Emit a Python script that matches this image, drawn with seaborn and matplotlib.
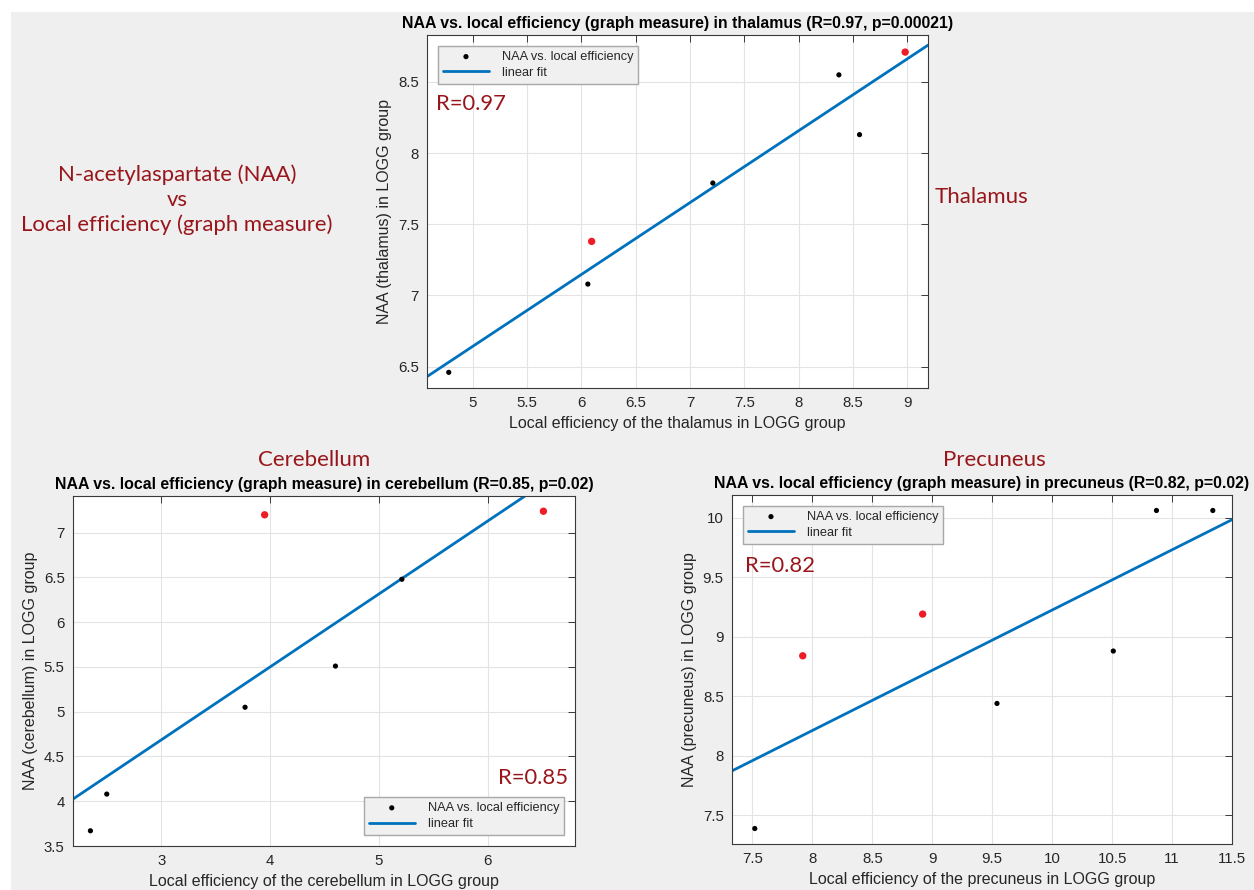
import numpy as np
import pandas as pd
import seaborn as sns
import matplotlib
matplotlib.use('Agg')
import matplotlib.pyplot as plt
from matplotlib.patches import Rectangle

# thalamus
thal_x = [4.78, 6.06, 6.095, 7.21, 8.37, 8.56, 8.98]
thal_y = [6.46, 7.08, 7.38, 7.79, 8.55, 8.13, 8.71]
thal_red = [0, 0, 1, 0, 0, 0, 1]

# cerebellum
cer_x = [2.35, 2.50, 3.77, 3.95, 4.60, 5.21, 6.51]
cer_y = [3.67, 4.08, 5.05, 7.20, 5.51, 6.48, 7.24]
cer_red = [0, 0, 0, 1, 0, 0, 1]

# precuneus
prec_x = [7.52, 7.92, 8.92, 9.54, 10.51, 10.87, 11.34]
prec_y = [7.39, 8.84, 9.19, 8.44, 8.88, 10.06, 10.06]
prec_red = [0, 1, 1, 0, 0, 0, 0]

thal_xticks = [5, 5.5, 6, 6.5, 7, 7.5, 8, 8.5, 9]
thal_yticks = [6.5, 7, 7.5, 8, 8.5]
cer_xticks = [3, 4, 5, 6]
cer_yticks = [3.5, 4, 4.5, 5, 5.5, 6, 6.5, 7]
prec_xticks = [7.5, 8, 8.5, 9, 9.5, 10, 10.5, 11, 11.5]
prec_yticks = [7.5, 8, 8.5, 9, 9.5, 10]

sns.set_theme(style="whitegrid")
plt.rcParams['font.family'] = ['Liberation Sans', 'DejaVu Sans']

BG = '#efefef'
DARKRED = '#98161b'
BLUE = '#0072BD'
TXT = '#262626'

fig = plt.figure(figsize=(12.54, 8.9), dpi=100)
fig.patch.set_facecolor('white')
fig.patches.append(Rectangle((11 / 1254, 0), 1, 1 - 12 / 890, transform=fig.transFigure,
                             facecolor=BG, edgecolor='none', zorder=-10))


def panel(rect, xs, ys, red, xlim, ylim, xticks, yticks, title, xlabel, ylabel, legloc, rtext, rpos):
    ax = fig.add_axes(rect)
    df = pd.DataFrame({'x': xs, 'y': ys, 'red': red})
    ax.set_xlim(xlim)
    ax.set_ylim(ylim)
    sns.scatterplot(data=df[df.red == 0], x='x', y='y', color='black', s=14, edgecolor='none',
                    label='NAA vs. local efficiency', ax=ax, zorder=3)
    sns.scatterplot(data=df[df.red == 1], x='x', y='y', color='#ee1c25', s=28, edgecolor='none',
                    label='_nolegend_', ax=ax, zorder=3)
    # linear fit over all points, stretched to the axis limits
    sns.regplot(data=df, x='x', y='y', scatter=False, ci=None, truncate=False,
                line_kws={'color': BLUE, 'lw': 2}, label='linear fit', ax=ax)
    ax.set_xlim(xlim)
    ax.set_ylim(ylim)
    ax.set_xticks(xticks)
    ax.set_yticks(yticks)
    ax.set_xticklabels([f'{t:g}' for t in xticks])
    ax.set_yticklabels([f'{t:g}' for t in yticks])
    ax.set_facecolor('white')
    ax.grid(True, color='#e3e3e3', lw=0.8)
    for sp in ax.spines.values():
        sp.set_color('#3a3a3a')
        sp.set_linewidth(0.8)
    ax.tick_params(direction='in', length=5, width=0.7, color='#3a3a3a', top=True, right=True,
                   labelsize=10.8, labelcolor=TXT, pad=6)
    ax.set_title(title, fontsize=11.4, fontweight='bold', color='black', pad=5)
    ax.set_xlabel(xlabel, fontsize=11.5, color=TXT, labelpad=4)
    ax.set_ylabel(ylabel, fontsize=11.5, color=TXT, labelpad=4)
    leg = ax.legend(loc=legloc, fontsize=9.2, frameon=True, fancybox=False, borderpad=0.4,
                    handlelength=3.6, handletextpad=1.0, labelspacing=0.3, borderaxespad=0.85)
    leg.get_frame().set_facecolor('#f0f0f0')
    leg.get_frame().set_edgecolor('#a8a8a8')
    leg.get_frame().set_alpha(1)
    ax.text(rpos[0], rpos[1], rtext, transform=ax.transAxes, color=DARKRED, fontsize=15.8,
            family=['Lato', 'DejaVu Sans'], va='center', ha='left', zorder=5)
    return ax


panel([427 / 1254, 1 - 388 / 890, 501 / 1254, 353 / 890], thal_x, thal_y, thal_red,
      (4.58, 9.19), (6.35, 8.83), thal_xticks, thal_yticks,
      'NAA vs. local efficiency (graph measure) in thalamus (R=0.97, p=0.00021)',
      'Local efficiency of the thalamus in LOGG group', 'NAA (thalamus) in LOGG group',
      'upper left', 'R=0.97', (0.018, 0.805))

panel([73 / 1254, 1 - 846 / 890, 502 / 1254, 350 / 890], cer_x, cer_y, cer_red,
      (2.19, 6.80), (3.5, 7.41), cer_xticks, cer_yticks,
      'NAA vs. local efficiency (graph measure) in cerebellum (R=0.85, p=0.02)',
      'Local efficiency of the cerebellum in LOGG group', 'NAA (cerebellum) in LOGG group',
      'lower right', 'R=0.85', (0.847, 0.194))

panel([732 / 1254, 1 - 844 / 890, 500 / 1254, 349 / 890], prec_x, prec_y, prec_red,
      (7.33, 11.5), (7.26, 10.19), prec_xticks, prec_yticks,
      'NAA vs. local efficiency (graph measure) in precuneus (R=0.82, p=0.02)',
      'Local efficiency of the precuneus in LOGG group', 'NAA (precuneus) in LOGG group',
      'upper left', 'R=0.82', (0.026, 0.797))

lato = ['Lato', 'DejaVu Sans']
fig.text(177 / 1254, 1 - 200 / 890, 'N-acetylaspartate (NAA)\nvs\nLocal efficiency (graph measure)',
         ha='center', va='center', color=DARKRED, fontsize=15.9, family=lato, linespacing=1.3)
fig.text(935 / 1254, 1 - 197 / 890, 'Thalamus', ha='left', va='center', color=DARKRED,
         fontsize=16, family=lato)
fig.text(314 / 1254, 1 - 460 / 890, 'Cerebellum', ha='center', va='center', color=DARKRED,
         fontsize=16, family=lato)
fig.text(994 / 1254, 1 - 460 / 890, 'Precuneus', ha='center', va='center', color=DARKRED,
         fontsize=16, family=lato)

fig.savefig('out.png', dpi=100, facecolor=fig.get_facecolor())
